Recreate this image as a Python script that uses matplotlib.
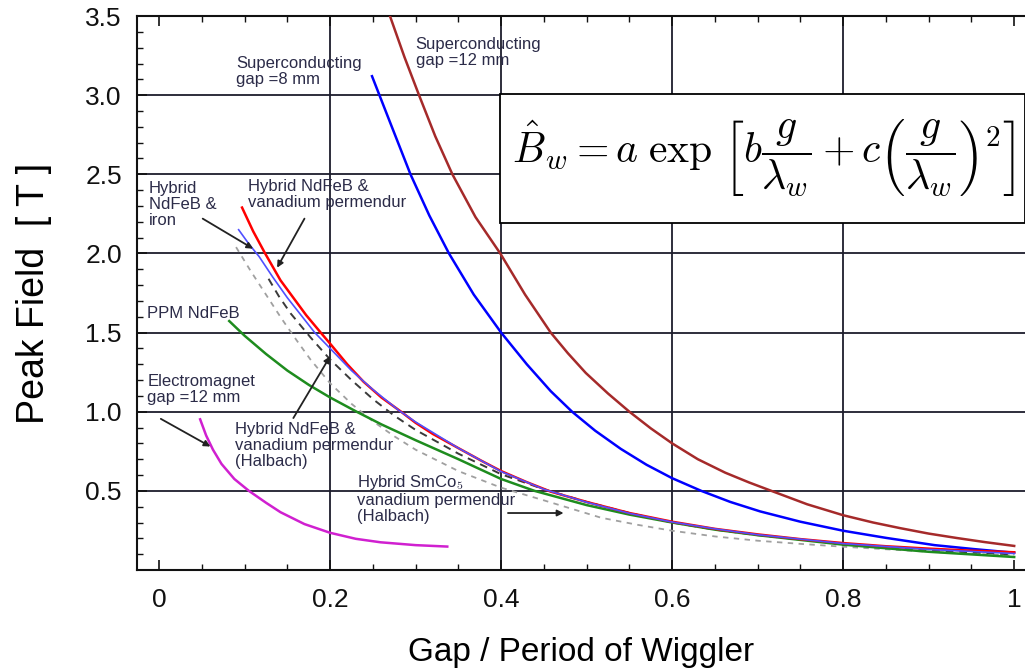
import numpy as np
import matplotlib
matplotlib.use("Agg")
import matplotlib.pyplot as plt
from matplotlib.patches import Rectangle

plt.rcParams['mathtext.fontset'] = 'cm'
plt.rcParams['font.family'] = ['Liberation Sans', 'DejaVu Sans']

# values (gap / period, peak field in T)
sc12_x = [0.270, 0.287, 0.304, 0.323, 0.343, 0.370, 0.399, 0.428, 0.458, 0.478, 0.499, 0.525, 0.550,
          0.575, 0.600, 0.630, 0.662, 0.690, 0.716, 0.758, 0.800, 0.835, 0.867, 0.900, 0.933, 0.966, 1.000]
sc12_y = [3.50, 3.24, 3.00, 2.74, 2.50, 2.23, 2.00, 1.74, 1.50, 1.37, 1.245, 1.115, 1.00,
          0.895, 0.80, 0.70, 0.615, 0.553, 0.50, 0.415, 0.346, 0.300, 0.264, 0.230, 0.202, 0.176, 0.152]

sc8_x = [0.249, 0.270, 0.294, 0.316, 0.339, 0.368, 0.400, 0.430, 0.458, 0.483, 0.510, 0.540, 0.570,
         0.600, 0.634, 0.668, 0.703, 0.750, 0.800, 0.850, 0.907, 0.953, 1.000]
sc8_y = [3.12, 2.83, 2.50, 2.24, 2.00, 1.74, 1.50, 1.30, 1.13, 1.00, 0.88, 0.765, 0.665,
         0.58, 0.50, 0.43, 0.37, 0.305, 0.248, 0.203, 0.157, 0.132, 0.109]

vp_x = [0.097, 0.110, 0.124, 0.142, 0.157, 0.172, 0.189, 0.200, 0.220, 0.239, 0.260, 0.283, 0.300, 0.320,
        0.350, 0.377, 0.400, 0.430, 0.458, 0.500, 0.550, 0.600, 0.650, 0.700, 0.750, 0.800, 0.850, 0.900, 0.950, 1.000]
vp_y = [2.29, 2.14, 2.00, 1.83, 1.72, 1.61, 1.50, 1.43, 1.30, 1.19, 1.09, 1.00, 0.93, 0.86,
        0.77, 0.69, 0.625, 0.555, 0.495, 0.43, 0.36, 0.305, 0.26, 0.225, 0.195, 0.170, 0.150, 0.135, 0.122, 0.112]

iron_x = [0.093, 0.105, 0.117, 0.133, 0.150, 0.166, 0.182, 0.200, 0.225, 0.250, 0.280, 0.300, 0.350,
          0.400, 0.450, 0.500, 0.550, 0.600, 0.650, 0.700, 0.800, 0.900, 1.000]
iron_y = [2.15, 2.06, 1.98, 1.85, 1.72, 1.61, 1.50, 1.40, 1.26, 1.14, 1.01, 0.935, 0.77,
          0.622, 0.51, 0.428, 0.358, 0.303, 0.26, 0.223, 0.167, 0.130, 0.104]

halb_x = [0.128, 0.140, 0.154, 0.177, 0.200, 0.225, 0.250, 0.275, 0.300, 0.350, 0.400, 0.450, 0.500,
          0.550, 0.600, 0.650, 0.700, 0.800, 0.900, 1.000]
halb_y = [1.84, 1.73, 1.62, 1.47, 1.33, 1.20, 1.08, 0.975, 0.885, 0.735, 0.605, 0.51, 0.43,
          0.36, 0.30, 0.255, 0.22, 0.165, 0.125, 0.098]

smco_x = [0.090, 0.107, 0.125, 0.143, 0.161, 0.177, 0.200, 0.225, 0.250, 0.275, 0.300, 0.350, 0.400,
          0.450, 0.517, 0.560, 0.600, 0.650, 0.700, 0.750, 0.800, 0.900, 1.000]
smco_y = [2.04, 1.89, 1.74, 1.59, 1.45, 1.33, 1.18, 1.05, 0.94, 0.845, 0.76, 0.625, 0.52,
          0.44, 0.33, 0.285, 0.248, 0.212, 0.185, 0.165, 0.147, 0.115, 0.092]

ppm_x = [0.082, 0.100, 0.125, 0.150, 0.175, 0.200, 0.231, 0.260, 0.300, 0.350, 0.400, 0.439, 0.500,
         0.550, 0.600, 0.650, 0.700, 0.800, 0.900, 1.000]
ppm_y = [1.573, 1.48, 1.365, 1.26, 1.17, 1.09, 1.00, 0.92, 0.82, 0.70, 0.575, 0.50, 0.41,
         0.35, 0.30, 0.255, 0.22, 0.16, 0.115, 0.082]

em_x = [0.048, 0.055, 0.063, 0.073, 0.088, 0.105, 0.125, 0.142, 0.170, 0.200, 0.230, 0.259, 0.300, 0.337]
em_y = [0.952, 0.85, 0.76, 0.67, 0.575, 0.50, 0.425, 0.365, 0.29, 0.235, 0.197, 0.175, 0.157, 0.148]

xticks = [0, 0.2, 0.4, 0.6, 0.8, 1.0]
xticklabels = ['0', '0.2', '0.4', '0.6', '0.8', '1']
yticks = [0.5, 1.0, 1.5, 2.0, 2.5, 3.0, 3.5]
yticklabels = ['0.5', '1.0', '1.5', '2.0', '2.5', '3.0', '3.5']

TXT = '#2b2b48'
GRID = '#1c1c2c'

fig = plt.figure(figsize=(10.25, 6.69), dpi=100)
ax = fig.add_axes([0.1337, 0.148, 0.866, 0.828])
ax.set_xlim(-0.0258, 1.0123)
ax.set_ylim(0, 3.5)

# grid only at interior major ticks
for gx in [0.2, 0.4, 0.6, 0.8]:
  ax.axvline(gx, color=GRID, lw=1.3, zorder=1)
for gy in [0.5, 1.0, 1.5, 2.0, 2.5, 3.0]:
  ax.axhline(gy, color=GRID, lw=1.3, zorder=1)

ax.plot(sc12_x, sc12_y, color='#a52a2a', lw=1.8, zorder=3)
ax.plot(sc8_x, sc8_y, color='#0000ff', lw=1.8, zorder=3)
ax.plot(smco_x, smco_y, color='#a0a0a0', lw=1.3, ls=(0, (3, 3)), zorder=3)
ax.plot(halb_x, halb_y, color='#3a3a3a', lw=1.4, ls=(0, (4, 3)), zorder=3)
ax.plot(ppm_x, ppm_y, color='#1e8c1e', lw=1.8, zorder=3)
ax.plot(vp_x, vp_y, color='#ff0000', lw=1.8, zorder=4)
ax.plot(iron_x, iron_y, color='#5050ff', lw=1.2, zorder=5)
ax.plot(em_x, em_y, color='#d020d0', lw=1.8, zorder=3)

# formula box
ax.add_patch(Rectangle((0.3985, 2.19), 1.0123 - 0.3985, 0.82, facecolor='white',
                       edgecolor='black', lw=1.3, zorder=2))
ax.text(0.707, 2.60,
        r'$\hat{B}_w = a\;\exp\,\left[b\dfrac{g}{\lambda_w} + c\left(\dfrac{g}{\lambda_w}\right)^2\right]$',
        fontsize=30, ha='center', va='center', zorder=6)

fs = 12
ax.text(0.090, 3.25, 'Superconducting\ngap =8 mm', fontsize=fs, color=TXT, va='top', linespacing=1.1)
ax.text(0.300, 3.37, 'Superconducting\ngap =12 mm', fontsize=fs, color=TXT, va='top', linespacing=1.1)
ax.text(-0.012, 2.46, 'Hybrid\nNdFeB &\niron', fontsize=fs, color=TXT, va='top', linespacing=1.1)
ax.text(0.104, 2.47, 'Hybrid NdFeB &\nvanadium permendur', fontsize=fs, color=TXT, va='top', linespacing=1.1)
ax.text(-0.014, 1.67, 'PPM NdFeB', fontsize=fs, color=TXT, va='top')
ax.text(-0.014, 1.24, 'Electromagnet\ngap =12 mm', fontsize=fs, color=TXT, va='top', linespacing=1.1)
ax.text(0.089, 0.935, 'Hybrid NdFeB &\nvanadium permendur\n(Halbach)', fontsize=fs, color=TXT, va='top', linespacing=1.1)
ax.text(0.232, 0.615, 'Hybrid SmCo$_5$\nvanadium permendur\n(Halbach)', fontsize=fs, color=TXT, va='top', linespacing=1.1)

arw = dict(arrowstyle='-|>', color='#222222', lw=1.3, mutation_scale=9, shrinkA=0, shrinkB=0)
ax.annotate('', xy=(0.110, 2.03), xytext=(0.051, 2.22), arrowprops=arw, zorder=6)
ax.annotate('', xy=(0.138, 1.91), xytext=(0.170, 2.22), arrowprops=arw, zorder=6)
ax.annotate('', xy=(0.060, 0.78), xytext=(0.002, 0.955), arrowprops=arw, zorder=6)
ax.annotate('', xy=(0.200, 1.35), xytext=(0.157, 0.96), arrowprops=arw, zorder=6)
ax.annotate('', xy=(0.473, 0.36), xytext=(0.408, 0.36), arrowprops=arw, zorder=6)

ax.set_xticks(xticks)
ax.set_xticklabels(xticklabels)
ax.set_yticks(yticks)
ax.set_yticklabels(yticklabels)
ax.set_xticks(np.arange(0, 1.01, 0.05), minor=True)
ax.set_yticks(np.arange(0.1, 3.5, 0.1), minor=True)
ax.tick_params(which='both', direction='in', top=True, right=False, colors='#111111')
ax.tick_params(which='major', length=7, width=1.2, labelsize=19)
ax.tick_params(which='minor', length=4, width=1.0)
ax.tick_params(axis='x', which='major', pad=13)
ax.tick_params(axis='y', which='major', pad=11)
for s in ax.spines.values():
  s.set_linewidth(1.5)
  s.set_color('#111111')
ax.spines['right'].set_visible(False)

ax.set_ylabel('Peak Field  [ T ]', fontsize=27, labelpad=24)
ax.set_xlabel('Gap / Period of Wiggler', fontsize=24, labelpad=18)

fig.savefig('out.png', dpi=100)
